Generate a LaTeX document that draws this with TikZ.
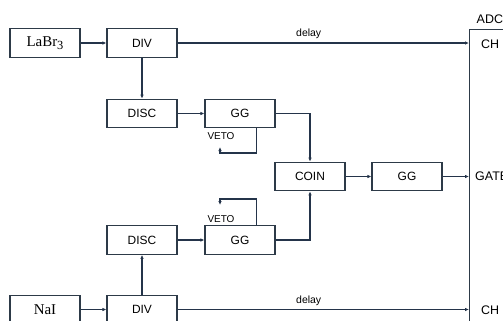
\documentclass[tikz,border=0pt]{standalone}
\usepackage{fontspec}
\newfontfamily\sansfont{Liberation Sans}
\newfontfamily\seriffont{Liberation Serif}
\usetikzlibrary{arrows.meta}
\definecolor{wire}{RGB}{36,52,74}
\definecolor{frame}{RGB}{45,58,72}
\begin{document}
\begin{tikzpicture}[x=1bp,y=-1bp,
  blk/.style={draw=frame, line width=1.1bp, minimum width=70bp, minimum height=28.5bp,
    inner sep=0pt, font=\sansfont\fontsize{12}{14}\selectfont},
  det/.style={blk, font=\seriffont\fontsize{15}{17}\selectfont},
  wire/.style={draw=wire, line width=1.1bp, -{Latex[length=4bp,width=3.5bp]}},
  lbl/.style={font=\sansfont\fontsize{10.5}{12}\selectfont, inner sep=0pt},
  port/.style={font=\sansfont\fontsize{12.5}{14}\selectfont, inner sep=0pt, anchor=west}]
\clip (0,0) rectangle (503,320);

% detectors and processing blocks
\node[det] (labr) at (45,43) {LaBr\raisebox{-3.5bp}{\fontsize{12.5}{14}\selectfont 3}};
\node[blk] (div1) at (142,43) {DIV};
\node[blk] (disc1) at (142,113.5) {DISC};
\node[blk] (gg1) at (240,113.5) {GG};
\node[blk] (coin) at (310,176.5) {COIN};
\node[blk] (gg3) at (407,176.5) {GG};
\node[blk] (gg2) at (240,240) {GG};
\node[blk] (disc2) at (142,240) {DISC};
\node[det] (nai) at (45,309.5) {NaI};
\node[blk] (div2) at (142,309.5) {DIV};

% ADC frame, running off the edge
\node[draw=frame, line width=1.1bp, anchor=north west, minimum width=100bp,
  minimum height=320bp, inner sep=0pt] (adc) at (469,29) {};
\node[port] (adclbl) at (476.5,19) {ADC};
\node[port] (ch1) at (481,44) {CH};
\node[port] (gate) at (475,176.5) {GATE};
\node[port] (ch2) at (481,310) {CH};

% upper branch
\draw[wire] (labr) -- (div1);
\draw[wire] (div1) -- (disc1);
\draw[wire] (disc1) -- (gg1);
\draw[wire] (gg1.east) -| (coin.north);
\draw[wire] (div1) -- node[lbl, pos=0.45, above=3.5bp] (dl1) {delay} (div1 -| adc.west);

% lower branch
\draw[wire] (nai) -- (div2);
\draw[wire] (div2) -- (disc2);
\draw[wire] (disc2) -- (gg2);
\draw[wire] (gg2.east) -| (coin.south);
\draw[wire] (div2) -- node[lbl, pos=0.45, above=3.5bp] (dl2) {delay} (div2 -| adc.west);

% coincidence gate
\draw[wire] (coin) -- (gg3);
\draw[wire] (gg3) -- (gg3 -| adc.west);

% veto loops
\node[lbl, font=\sansfont\fontsize{10}{12}\selectfont] (veto1) at (221,136) {VETO};
\node[lbl, font=\sansfont\fontsize{10}{12}\selectfont] (veto2) at (221,219) {VETO};
\coordinate (v1) at (220,147);
\coordinate (v2) at (220,205);
\draw[wire] ([xshift=16.7bp]gg1.south) |- ([yshift=-6bp]v1) -- (v1);
\draw[wire] ([xshift=16.7bp]gg2.north) |- ([yshift=6bp]v2) -- (v2);
\end{tikzpicture}
\end{document}
